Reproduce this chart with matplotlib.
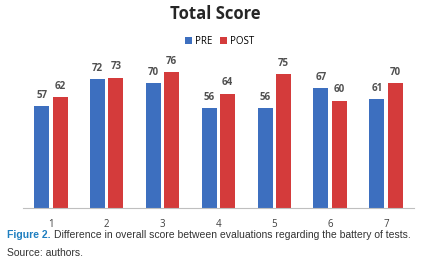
import matplotlib
matplotlib.use("Agg")
import matplotlib.pyplot as plt
import numpy as np

categories = ["1", "2", "3", "4", "5", "6", "7"]
pre = [57, 72, 70, 56, 56, 67, 61]
post = [62, 73, 76, 64, 75, 60, 70]

fig = plt.figure(figsize=(4.25, 2.74), dpi=100)
ax = fig.add_axes([0.054, 0.241, 0.92, 0.587])
x = np.arange(len(categories))
w = 0.27
off = 0.165
b1 = ax.bar(x - off, pre, w, color="#3D6FBF", label="PRE", zorder=2)
b2 = ax.bar(x + off, post, w, color="#D43B3B", label="POST", zorder=2)
for bars, vals in ((b1, pre), (b2, post)):
    for r, v in zip(bars, vals):
        ax.text(r.get_x() + r.get_width() / 2, v + 3, str(v), ha="center", va="bottom",
                fontsize=7, color="#505050", fontweight="bold", family="Open Sans")
ax.set_xlim(-0.5, len(categories) - 0.5)
ax.set_ylim(0, 90)
ax.set_xticks(x)
ax.set_xticklabels(categories, fontsize=7, color="#404040", family="Open Sans")
ax.tick_params(axis="x", length=0, pad=8)
ax.set_yticks([])
for s in ["top", "right", "left"]:
    ax.spines[s].set_visible(False)
ax.spines["bottom"].set_color("#BFBFBF")
ax.spines["bottom"].set_linewidth(0.8)

fig.text(0.506, 0.948, "Total Score", ha="center", va="center", fontsize=12,
         fontweight="bold", color="#262626", family="Open Sans")
fig.legend(handles=[b1, b2], labels=["PRE", "POST"], loc="center", bbox_to_anchor=(0.517, 0.85),
           ncol=2, frameon=False, handlelength=0.7, handleheight=0.7,
           handletextpad=0.3, columnspacing=0.8, prop={"family": "Open Sans", "size": 7})

fig.text(0.016, 0.142, "Figure 2.", ha="left", va="center", fontsize=7.5,
         fontweight="bold", color="#1F7FC0", family="Liberation Sans")
fig.text(0.128, 0.142, "Difference in overall score between evaluations regarding the battery of tests.",
         ha="left", va="center", fontsize=7.5, color="#333333", family="Liberation Sans")
fig.text(0.016, 0.077, "Source: authors.", ha="left", va="center", fontsize=7.5,
         color="#333333", family="Liberation Sans")

fig.savefig("out.png", dpi=100)
